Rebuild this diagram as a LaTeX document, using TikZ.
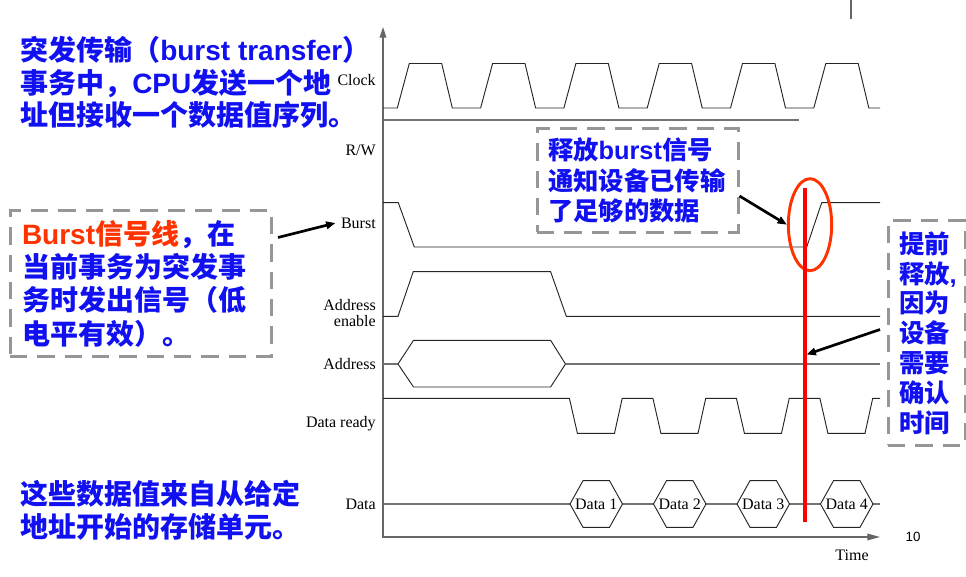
\documentclass[tikz,border=0pt]{standalone}
\usepackage{fontspec}
\setmainfont{Liberation Serif}
\newfontfamily\cjk{Noto Sans CJK SC}
\newfontfamily\arialfont{Liberation Sans}
\usepackage{tikz}
\usetikzlibrary{arrows.meta}
\usetikzlibrary{shapes.geometric}
\usepackage{xcolor}
\definecolor{noteblue}{RGB}{16,16,240}
\definecolor{burstred}{RGB}{255,51,0}
\definecolor{boxgray}{RGB}{150,150,150}
\newcommand{\lat}[1]{{\arialfont\bfseries #1}}

\begin{document}
\begin{tikzpicture}[x=0.75pt,y=-0.75pt,
    wave/.style={black!85,line width=0.7pt},
    midline/.style={black!55,line width=0.8pt},
    axis/.style={black!60,line width=0.9pt},
    siglabel/.style={anchor=east,inner sep=0pt,align=right,font=\fontsize{12}{12}\selectfont},
    hexlabel/.style={inner sep=0pt,font=\fontsize{12}{12}\selectfont},
    notetext/.style={inner sep=0pt,align=left,text=noteblue,font=\cjk\bfseries\fontsize{21}{24.5}\selectfont},
    notebox/.style={draw=boxgray,line width=2.25pt,dash pattern=on 13pt off 7.5pt,align=left,text=noteblue,inner ysep=0pt},
    notearrow/.style={-{Triangle[length=7pt,width=5.5pt]},line width=2pt,black}]
        \fill[white] (0,0) rectangle (966,577);
        \useasboundingbox (0,0) rectangle (966,577);
        \draw[axis,{Triangle[length=8pt,width=5pt]}-{Triangle[length=9.5pt,width=5pt]}] (383,27) -- (383,537) -- (880,537);
        \draw[black!60,line width=0.8pt] (851,0) -- (851,19);
        \node[siglabel] (clk) at (376,80) {Clock};
        \node[siglabel] (rw) at (376,150) {R/W};
        \node[siglabel] (bst) at (376,223) {Burst};
        \node[siglabel] (aen) at (376,313) {Address\\enable};
        \node[siglabel] (adr) at (376,364) {Address};
        \node[siglabel] (rdy) at (376,424) {Data ready};
        \node[siglabel] (dat) at (376,504) {Data};
        \node[hexlabel] (time) at (852,555) {Time};
        \node[inner sep=0pt,font=\arialfont\fontsize{10}{10}\selectfont] (page) at (913,537) {10};
        \draw[wave] (383,108) \foreach \i in {0,...,5} {-- ({397.3+83.3*\i},108) -- ({409.3+83.3*\i},63.5) -- ({441.7+83.3*\i},63.5) -- ({452.3+83.3*\i},108)} -- (880,108);
        \draw[midline] (383,120) -- (799,120);
        \draw[wave] (383,202.7) -- (398.3,202.7) -- (414.3,247) -- (806.7,247) -- (821.7,202.7) -- (880,202.7);
        \draw[wave] (383,316.3) -- (398,316.3) -- (413.2,271.7) -- (550.6,271.7) -- (566.3,316.3) -- (880,316.3);
        \draw[midline] (383,364) -- (398,364) (565.5,364) -- (880,364);
        \draw[wave] (398,364) -- (413.5,340.3) -- (550.6,340.3) -- (565.5,364) -- (550.6,387) -- (413.5,387) -- cycle;
        \draw[wave] (383,398.3) \foreach \i in {0,...,3} {-- ({569.4+83.5*\i},398.3) -- ({577.4+83.5*\i},433.3) -- ({614.5+83.5*\i},433.3) -- ({622.2+83.5*\i},398.3)} -- (880,398.3);
        \draw[midline] (383,504) -- (880,504);
        \foreach \k in {1,...,4} {
            \draw[wave,fill=white] ({570+83.5*(\k-1)},504) -- ++(13,-23.3) -- ++(26.5,0) -- ++(13,23.3) -- ++(-13,23.3) -- ++(-26.5,0) -- cycle;
            \node[hexlabel] (data\k) at ({596.2+83.5*(\k-1)},504) {Data \k};
        }
        \node[draw=burstred,ellipse,line width=2.2pt,minimum width=32.5pt,minimum height=69pt,inner sep=0pt] (relmark) at (810,224.7) {};
        \coordinate (rtop) at (805,188);
        \coordinate (rbot) at (805,522);
        \draw[red,line width=3pt] (rtop) -- (rbot);
        \node[notetext,anchor=west] (intro) at (20,82.5) {突发传输（\lat{burst transfer}）\\事务中，\lat{CPU}发送一个地\\址但接收一个数据值序列。};
        \node[notetext,anchor=west] (source) at (20,510.5) {这些数据值来自从给定\\地址开始的存储单元。};
        \node[notebox,minimum width=195.75pt,minimum height=108.75pt,text width=177.75pt,inner xsep=9pt,font=\cjk\bfseries\fontsize{21}{25}\selectfont] (burstbox) at (140.5,283.5) {\textcolor{burstred}{\lat{Burst}信号线}，在\\当前事务为突发事\\务时发出信号（低\\电平有效）。};
        \node[notebox,minimum width=150.75pt,minimum height=77.25pt,text width=134.25pt,inner xsep=8.25pt,font=\cjk\bfseries\fontsize{19}{23}\selectfont] (relbox) at (637.5,180.5) {释放\lat{burst}信号\\通知设备已传输\\了足够的数据};
        \node[notebox,minimum width=57.75pt,minimum height=168pt,text width=41.25pt,inner xsep=8.25pt,font=\cjk\bfseries\fontsize{19}{22.35}\selectfont] (ackbox) at (926.5,333) {提前\\释放\lat{,}\\因为\\设备\\需要\\确认\\时间};
        \coordinate (bursttail) at (278,237.5);
        \coordinate (reltail) at (739.5,196);
        \coordinate (acktail) at (880,329.5);
        \coordinate (ackpt) at (806.5,354.5);
        \draw[notearrow] (bursttail) -- ([xshift=-4pt]bst.west);
        \draw[notearrow] (reltail) -- (relmark.west);
        \draw[notearrow] (acktail) -- (ackpt);
\end{tikzpicture}
\end{document}
